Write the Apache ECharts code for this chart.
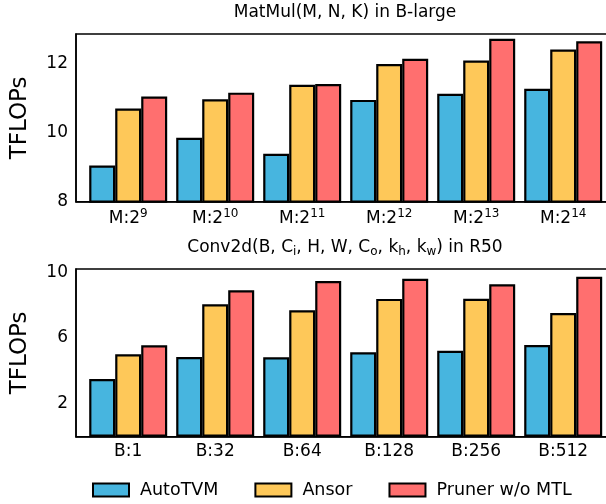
<!DOCTYPE html>
<html>
<head>
<meta charset="utf-8">
<script src="https://cdn.jsdelivr.net/npm/echarts@6/dist/echarts.min.js"></script>
<style>
  html, body { margin: 0; padding: 0; background: #fff; }
  #chart { width: 606px; height: 504px; }
</style>
</head>
<body>
<div id="chart"></div>
<script>
// x labels
const matmulExp = ['9', '10', '11', '12', '13', '14'];
const convLabels = ['B:1', 'B:32', 'B:64', 'B:128', 'B:256', 'B:512'];

// MatMul in B-large (TFLOPs)
const mmAutoTVM = [9.05, 9.85, 9.39, 10.95, 11.13, 11.27];
const mmAnsor = [10.70, 10.97, 11.39, 11.99, 12.09, 12.41];
const mmPruner = [11.05, 11.16, 11.41, 12.14, 12.72, 12.65];

// Conv2d in R50 (TFLOPs)
const convAutoTVM = [3.51, 4.85, 4.83, 5.13, 5.23, 5.58];
const convAnsor = [5.01, 8.05, 7.69, 8.38, 8.39, 7.52];
const convPruner = [5.56, 8.90, 9.47, 9.61, 9.27, 9.73];

const mmTicks = [8, 10, 12];
const convTicks = [2, 6, 10];

const names = ['AutoTVM', 'Ansor', 'Pruner w/o MTL'];
const colors = ['#47b5df', '#fec859', '#ff6f6f'];
const font = 'DejaVu Sans';

const chart = echarts.init(document.getElementById('chart'), null, { renderer: 'canvas' });

function toPoints(arr) {
  return arr.map((v, i) => [i, v]);
}

function barSeries(data, k, gi) {
  return {
    name: names[k],
    type: 'bar',
    xAxisIndex: gi,
    yAxisIndex: gi,
    data: toPoints(data),
    barWidth: 26,
    barGap: '0%',
    clip: true,
    itemStyle: { color: colors[k], borderColor: '#000', borderWidth: 2.2 }
  };
}

function xAxisOf(gi, fmt, rich) {
  return {
    type: 'value',
    gridIndex: gi,
    min: -0.6,
    max: 5.6,
    splitLine: { show: false },
    axisTick: { show: false },
    axisLine: { onZero: false, lineStyle: { color: '#000', width: 1.5 } },
    axisLabel: {
      customValues: [0, 1, 2, 3, 4, 5],
      formatter: fmt,
      color: '#000',
      fontFamily: font,
      fontSize: 17,
      margin: 6,
      rich: rich
    }
  };
}

function yAxisOf(gi, min, max, ticks) {
  return {
    type: 'value',
    gridIndex: gi,
    min: min,
    max: max,
    name: 'TFLOPs',
    nameLocation: 'middle',
    nameGap: 44,
    nameTextStyle: { fontFamily: font, fontSize: 23, color: '#000' },
    splitLine: { show: false },
    axisTick: { show: false },
    axisLine: { show: true, onZero: false, lineStyle: { color: '#000', width: 1.5 } },
    axisLabel: {
      customValues: ticks,
      color: '#000',
      fontFamily: font,
      fontSize: 17,
      margin: 8
    }
  };
}

function gridOf(top) {
  return {
    left: 76, top: top, width: 539.4, height: 167.7,
    outerBoundsMode: 'none', containLabel: false,
    show: true, borderColor: '#000', borderWidth: 1.5, backgroundColor: 'transparent'
  };
}

const option = {
  animation: false,
  backgroundColor: '#fff',
  title: [
    {
      text: 'MatMul(M, N, K) in B-large',
      left: 345,
      top: 3,
      padding: 0,
      textAlign: 'center',
      textStyle: { fontFamily: font, fontSize: 17, fontWeight: 'normal', color: '#000', lineHeight: 20 }
    },
    {
      text: 'Conv2d(B, C{sub|i}, H, W, C{sub|o}, k{sub|h}, k{sub|w}) in R50',
      left: 345,
      top: 238,
      padding: 0,
      textAlign: 'center',
      textStyle: {
        fontFamily: font, fontSize: 17, fontWeight: 'normal', color: '#000', lineHeight: 20,
        rich: {
          sub: { fontFamily: font, fontSize: 12, color: '#000', verticalAlign: 'bottom', lineHeight: 20 }
        }
      }
    }
  ],
  legend: {
    data: names,
    left: 87,
    top: 476,
    icon: 'rect',
    itemWidth: 36,
    itemHeight: 13,
    itemGap: 36,
    textStyle: { fontFamily: font, fontSize: 17.5, color: '#000', padding: [0, 0, 0, 6] },
    itemStyle: { borderColor: '#000', borderWidth: 2 }
  },
  grid: [gridOf(34), gridOf(269)],
  xAxis: [
    xAxisOf(0, v => '{b|M:2}{s|' + matmulExp[v] + '}', {
      b: { fontFamily: font, fontSize: 17, color: '#000', lineHeight: 22 },
      s: { fontFamily: font, fontSize: 12, color: '#000', verticalAlign: 'top', lineHeight: 22 }
    }),
    xAxisOf(1, v => convLabels[v], null)
  ],
  yAxis: [
    yAxisOf(0, 8, 12.86, mmTicks),
    yAxisOf(1, 0, 10.2, convTicks)
  ],
  series: [
    barSeries(mmAutoTVM, 0, 0),
    barSeries(mmAnsor, 1, 0),
    barSeries(mmPruner, 2, 0),
    barSeries(convAutoTVM, 0, 1),
    barSeries(convAnsor, 1, 1),
    barSeries(convPruner, 2, 1)
  ]
};

chart.setOption(option);
</script>
</body>
</html>
